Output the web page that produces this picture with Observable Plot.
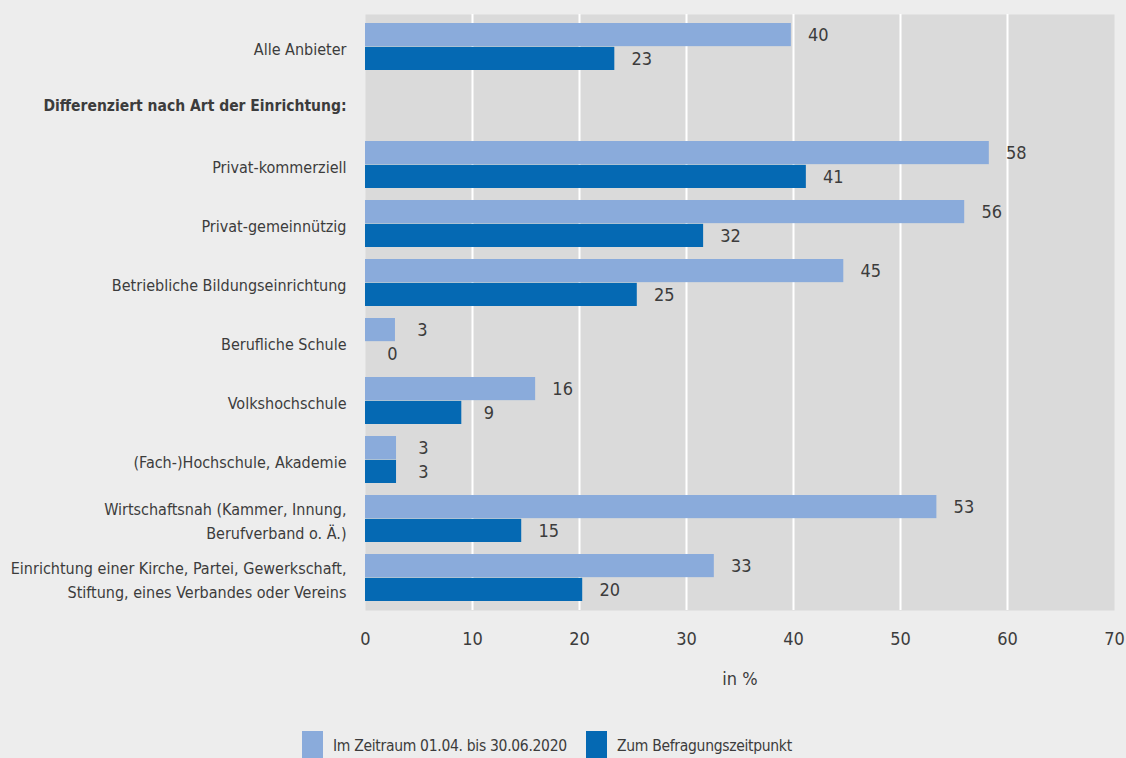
<!DOCTYPE html>
<html>
<head>
<meta charset="utf-8">
<script src="https://cdn.jsdelivr.net/npm/d3@7"></script>
<script src="https://cdn.jsdelivr.net/npm/@observablehq/plot@0.6"></script>
<style>
  html, body { margin: 0; padding: 0; background: #ededed; }
  body { width: 1126px; height: 758px; overflow: hidden; font-family: "DejaVu Sans Condensed", "DejaVu Sans", sans-serif; font-stretch: condensed; color: #3c3c3c; }
  #legend { position: relative; height: 43px; font-size: 15.5px; letter-spacing: -0.3px; }
  .item { position: absolute; top: 16px; display: flex; align-items: flex-start; white-space: nowrap; }
  .sw { width: 21px; height: 27px; margin-right: 10px; }
  .lbl { line-height: 30px; }
</style>
</head>
<body>
<div id="chart"></div>
<div id="legend"></div>
<script>
const categories = [
  "Alle Anbieter",
  "Differenziert nach Art der Einrichtung:",
  "Privat-kommerziell",
  "Privat-gemeinnützig",
  "Betriebliche Bildungseinrichtung",
  "Berufliche Schule",
  "Volkshochschule",
  "(Fach-)Hochschule, Akademie",
  "Wirtschaftsnah (Kammer, Innung,\nBerufverband o. Ä.)",
  "Einrichtung einer Kirche, Partei, Gewerkschaft,\nStiftung, eines Verbandes oder Vereins"
];
const headerCategory = "Differenziert nach Art der Einrichtung:";
const barCategories = categories.filter(c => c !== headerCategory);
const seriesNames = ["Im Zeitraum 01.04. bis 30.06.2020", "Zum Befragungszeitpunkt"];
const zeitraum = [39.8, 58.3, 56.0, 44.7, 2.8, 15.9, 2.9, 53.4, 32.6];
const befragung = [23.3, 41.2, 31.6, 25.4, 0, 9.0, 2.9, 14.6, 20.3];
const zeitraumLabels = [40, 58, 56, 45, 3, 16, 3, 53, 33];
const befragungLabels = [23, 41, 32, 25, 0, 9, 3, 15, 20];
const xTicks = [0, 10, 20, 30, 40, 50, 60, 70];
const gridTicks = [10, 20, 30, 40, 50, 60];

const colors = ["#8aabdb", "#0569b3"];
const font = '"DejaVu Sans Condensed", "DejaVu Sans", sans-serif';

const rows = barCategories.map((cat, i) => ({
  cat, zeitraum: zeitraum[i], befragung: befragung[i],
  zl: String(zeitraumLabels[i]), bl: String(befragungLabels[i])
}));

const half = 23.84; // half of band width

const chart = Plot.plot({
  width: 1126,
  height: 715,
  marginLeft: 365,
  marginRight: 12,
  marginTop: 14,
  marginBottom: 105,
  style: { fontFamily: font, fontSize: "18px", fontStretch: "condensed", color: "#3c3c3c", background: "transparent" },
  x: { domain: [0, 70] },
  y: { domain: categories, paddingInner: 0.2, paddingOuter: 0.1, axis: null },
  marks: [
    Plot.frame({ fill: "#dadada", stroke: "none" }),
    Plot.gridX(gridTicks, { stroke: "white", strokeOpacity: 1, strokeWidth: 2 }),
    Plot.barX(rows, { x: "zeitraum", y: "cat", fill: colors[0], insetBottom: half }),
    Plot.barX(rows, { x: "befragung", y: "cat", fill: colors[1], insetTop: half }),
    Plot.text(rows, { x: "zeitraum", y: "cat", text: "zl", dx: 27, dy: -half / 2, textAnchor: "middle", fill: "#3c3c3c" }),
    Plot.text(rows, { x: "befragung", y: "cat", text: "bl", dx: 27, dy: half / 2, textAnchor: "middle", fill: "#3c3c3c" }),
    Plot.text(barCategories, { y: d => d, frameAnchor: "left", dx: -19, textAnchor: "end", lineHeight: 1.55, fontSize: 16, fill: "#3c3c3c" }),
    Plot.text([headerCategory], { y: d => d, frameAnchor: "left", dx: -19, textAnchor: "end", fontWeight: "bold", fontSize: 15.5, fill: "#3c3c3c" }),
    Plot.axisX(xTicks, { tickSize: 0, tickPadding: 22, label: "in %", labelAnchor: "center", labelArrow: "none", labelOffset: 74, fill: "#3c3c3c" })
  ]
});
document.getElementById("chart").append(chart);

const legend = document.getElementById("legend");
const lefts = [302, 586];
seriesNames.forEach((name, i) => {
  const item = document.createElement("div");
  item.className = "item";
  item.style.left = lefts[i] + "px";
  const sw = document.createElement("div");
  sw.className = "sw";
  sw.style.background = colors[i];
  const lbl = document.createElement("div");
  lbl.className = "lbl";
  lbl.textContent = name;
  item.append(sw, lbl);
  legend.append(item);
});
</script>
</body>
</html>
